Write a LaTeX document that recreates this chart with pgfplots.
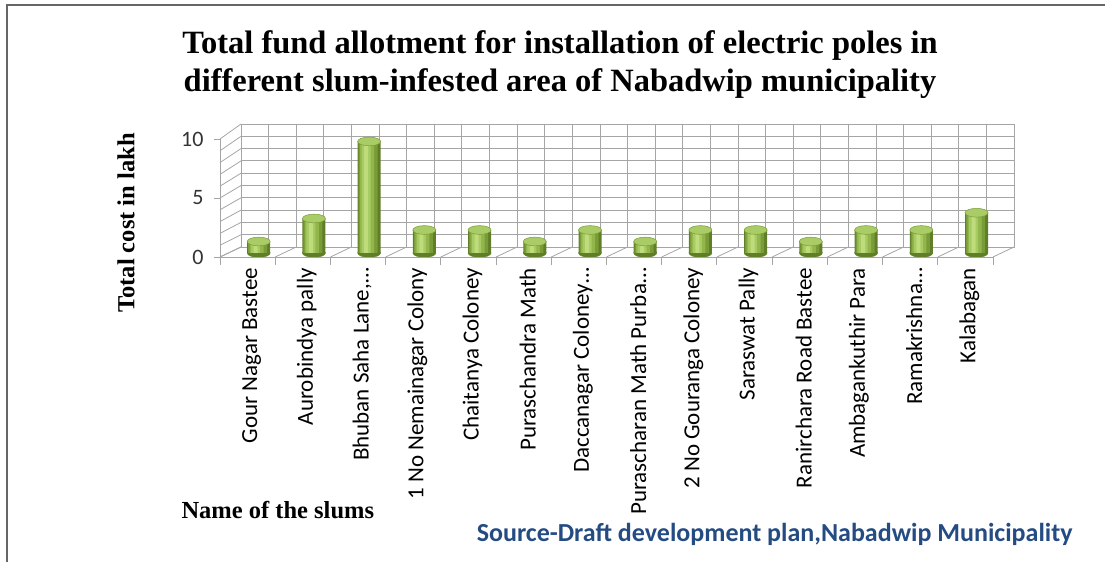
\documentclass[border=0pt]{standalone}
\usepackage{pgfplots}
\usepackage{pgfplotstable}
\pgfplotsset{compat=1.18}
\usepackage{fontspec}
\setmainfont{Liberation Serif}
\newfontfamily\calfont{Carlito}
\definecolor{gridc}{RGB}{165,165,165}
\definecolor{gA}{RGB}{96,126,40}
\definecolor{gB}{RGB}{122,156,56}
\definecolor{gC}{RGB}{146,182,76}
\definecolor{gD}{RGB}{168,202,98}
\definecolor{gE}{RGB}{190,220,124}
\definecolor{gcap}{RGB}{170,204,102}
\definecolor{srcblue}{RGB}{36,76,130}
\pgfplotstableread{
x y
0 1
1 3
2 9.7
3 2
4 2
5 1
6 2
7 1
8 2
9 2
10 1
11 2
12 2
13 3.5
}\costs
\begin{document}
\begin{tikzpicture}[x=1pt,y=1pt]
\useasboundingbox (0,0) rectangle (1105,562);
\draw[gray!80!black, line width=2pt] (7,0) -- (7,557) -- (1105,557);
% back wall
\begin{axis}[at={(241pt,315pt)}, anchor=south west, scale only axis,
  width=773pt, height=123pt, xmin=-0.5, xmax=13.5, ymin=0, ymax=10,
  xtick={-0.5,0,...,13.5}, ytick={0,1,...,10}, xticklabels={}, yticklabels={},
  major tick length=0pt, grid=major, major grid style={gridc, line width=0.8pt},
  axis line style={gridc, line width=0.9pt}, clip=false]
  \pgfplotsinvokeforeach{0,...,10}{
    \draw[gridc, line width=0.8pt] (axis cs:-0.5,#1) -- ++(-21pt,{-(10+0.5*#1)*1pt});
  }
  \pgfplotsinvokeforeach{-0.5,0.5,...,13.5}{
    \draw[gridc, line width=0.8pt] (axis cs:#1,0) -- ++(-21pt,-10pt);
  }
\end{axis}
% bars
\begin{axis}[at={(231.1pt,309pt)}, anchor=south west, scale only axis,
  width=773pt, height=115pt, xmin=-0.5, xmax=13.5, ymin=0, ymax=10,
  hide axis, clip=false, clip marker paths=true]
  \addplot[only marks, mark=*, mark size=11.5pt,
    mark options={yscale=0.38, fill=gA, draw=gA}]
    table[x=x, y expr=0] {\costs};
  \addplot[ybar, bar width=23pt, bar shift=0pt, draw=none, fill=gA] table[x=x,y=y] {\costs};
  \addplot[ybar, bar width=19pt, bar shift=-1pt, draw=none, fill=gB] table[x=x,y=y] {\costs};
  \addplot[ybar, bar width=14pt, bar shift=-2pt, draw=none, fill=gC] table[x=x,y=y] {\costs};
  \addplot[ybar, bar width=9pt, bar shift=-3pt, draw=none, fill=gD] table[x=x,y=y] {\costs};
  \addplot[ybar, bar width=4pt, bar shift=-3pt, draw=none, fill=gE] table[x=x,y=y] {\costs};
  \addplot[only marks, mark=*, mark size=11.5pt,
    mark options={yscale=0.38, fill=gcap, draw=gB, line width=0.5pt}]
    table[x=x,y=y] {\costs};
\end{axis}
% front axis with ticks and labels
\begin{axis}[at={(220pt,305pt)}, anchor=south west, scale only axis,
  width=773pt, height=118pt, xmin=-0.5, xmax=13.5, ymin=0, ymax=10,
  axis x line*=bottom, axis y line*=left,
  axis line style={gridc, line width=0.9pt, -},
  xtick={0,...,13},
  xticklabels={Gour Nagar Bastee, Aurobindya pally, {Bhuban Saha Lane,…}, 1 No Nemainagar Colony, Chaitanya Coloney, Puraschandra Math, {Daccanagar Coloney…}, {Purascharan Math Purba…}, 2 No Gouranga Coloney, Saraswat Pally, Ranirchara Road Bastee, Ambagankuthir Para, {Ramakrishna…}, Kalabagan},
  minor xtick={-0.5,0.5,...,13.5},
  major x tick style={draw=none},
  minor tick length=8pt, major tick length=6pt, tick align=outside,
  tick style={gridc, line width=0.9pt},
  ytick={0,5,10},
  /pgf/number format/assume math mode=true,
  yticklabel style={font=\calfont\fontsize{22}{22}\selectfont, text=black!80, xshift=-7pt},
  xticklabel style={rotate=90, anchor=east, font=\calfont\fontsize{23}{23}\selectfont, text=black, xshift=-1.5pt, yshift=-4pt},
  clip=false]
\end{axis}
\node[font=\bfseries\fontsize{32.5}{38}\selectfont, anchor=base] at (560,508)
  {Total fund allotment for installation of electric poles in};
\node[font=\bfseries\fontsize{32.5}{38}\selectfont, anchor=base] at (560,470)
  {different slum-infested area of Nabadwip municipality};
\node[font=\bfseries\fontsize{24.5}{24}\selectfont, rotate=90] at (126,339) {Total cost in lakh};
\node[font=\bfseries\fontsize{24.5}{24}\selectfont, anchor=west] at (178,52) {Name of the slums};
\node[font=\calfont\bfseries\fontsize{26}{26}\selectfont, text=srcblue, anchor=east] at (1076,28)
  {Source-Draft development plan,Nabadwip Municipality};
\end{tikzpicture}
\end{document}
